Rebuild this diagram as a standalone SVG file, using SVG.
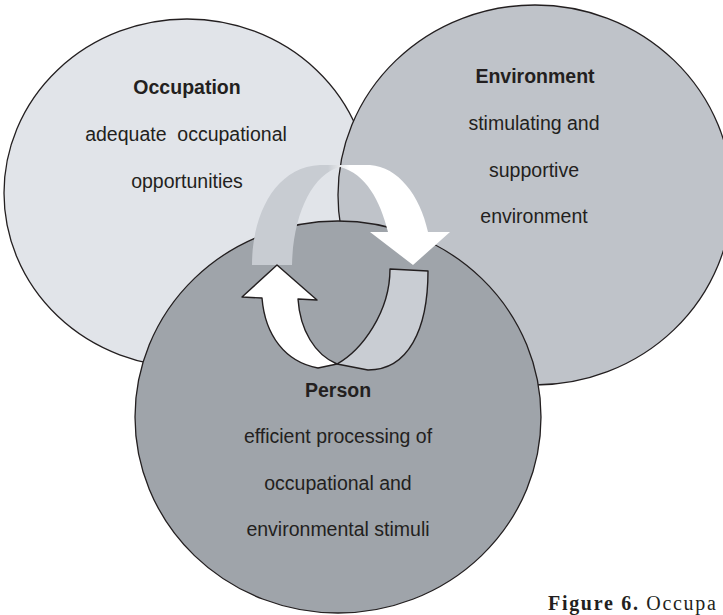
<svg xmlns="http://www.w3.org/2000/svg" width="723" height="615" viewBox="0 0 723 615">
  <defs>
    <linearGradient id="archGrad" gradientUnits="userSpaceOnUse" x1="328" y1="0" x2="350" y2="0">
      <stop offset="0" stop-color="#c8ccd2"/>
      <stop offset="1" stop-color="#ffffff"/>
    </linearGradient>
    <style>
      .circ { stroke: #231f20; stroke-width: 1.3; }
      .lbl { font-family: "Liberation Sans", Arial, sans-serif; font-size: 19.5px; fill: #231f20; text-anchor: middle; }
      .ttl { font-weight: bold; }
      .rib { stroke: #231f20; stroke-width: 1.4; stroke-linejoin: round; }
      .cap { font-family: "Liberation Serif", "Times New Roman", serif; font-size: 20px; fill: #231f20; letter-spacing: 1.7px; }
    </style>
  </defs>
  <rect width="723" height="615" fill="#ffffff"/>

  <g id="occupation">
    <ellipse class="circ" cx="187" cy="193" rx="183" ry="174" fill="#e1e4e9"/>
  </g>
  <g id="environment">
    <ellipse class="circ" cx="535" cy="195" rx="197" ry="190" fill="#bfc3c9"/>
  </g>
  <g id="person">
    <ellipse class="circ" cx="338" cy="417" rx="203" ry="196" fill="#9fa4aa"/>
  </g>

  <g id="connectors">
    <path d="M 252,265 C 252,215 275,167 320,165 L 370,165 C 398,167 420,195 428,232 L 450,232 L 413,265 L 370,232 L 388,232 C 380,200 366,174 340,167 C 312,174 293,215 292,265 Z" fill="url(#archGrad)"/>
    <path class="rib" d="M 390,269 L 428,271 C 428,330 408,370 368,370 L 337,364 C 362,350 390,312 390,269 Z" fill="#c9cdd3"/>
    <path class="rib" d="M 277,265 L 317,300 L 298,299 C 300,330 315,355 337,364 L 318,368 C 285,362 265,335 262,298 L 242,297 Z" fill="#ffffff"/>
  </g>

  <g id="occupation-text">
    <text class="lbl ttl" x="187" y="94">Occupation</text>
    <text class="lbl" x="186" y="141" xml:space="preserve">adequate  occupational</text>
    <text class="lbl" x="187" y="188">opportunities</text>
  </g>
  <g id="environment-text">
    <text class="lbl ttl" x="535" y="83">Environment</text>
    <text class="lbl" x="534" y="130">stimulating and</text>
    <text class="lbl" x="534" y="177">supportive</text>
    <text class="lbl" x="534" y="223">environment</text>
  </g>
  <g id="person-text">
    <text class="lbl ttl" x="338" y="397">Person</text>
    <text class="lbl" x="338" y="443">efficient processing of</text>
    <text class="lbl" x="338" y="490">occupational and</text>
    <text class="lbl" x="338" y="536">environmental stimuli</text>
  </g>

  <text class="cap" x="548" y="610"><tspan font-weight="bold">Figure 6.</tspan> Occupa</text>
</svg>
